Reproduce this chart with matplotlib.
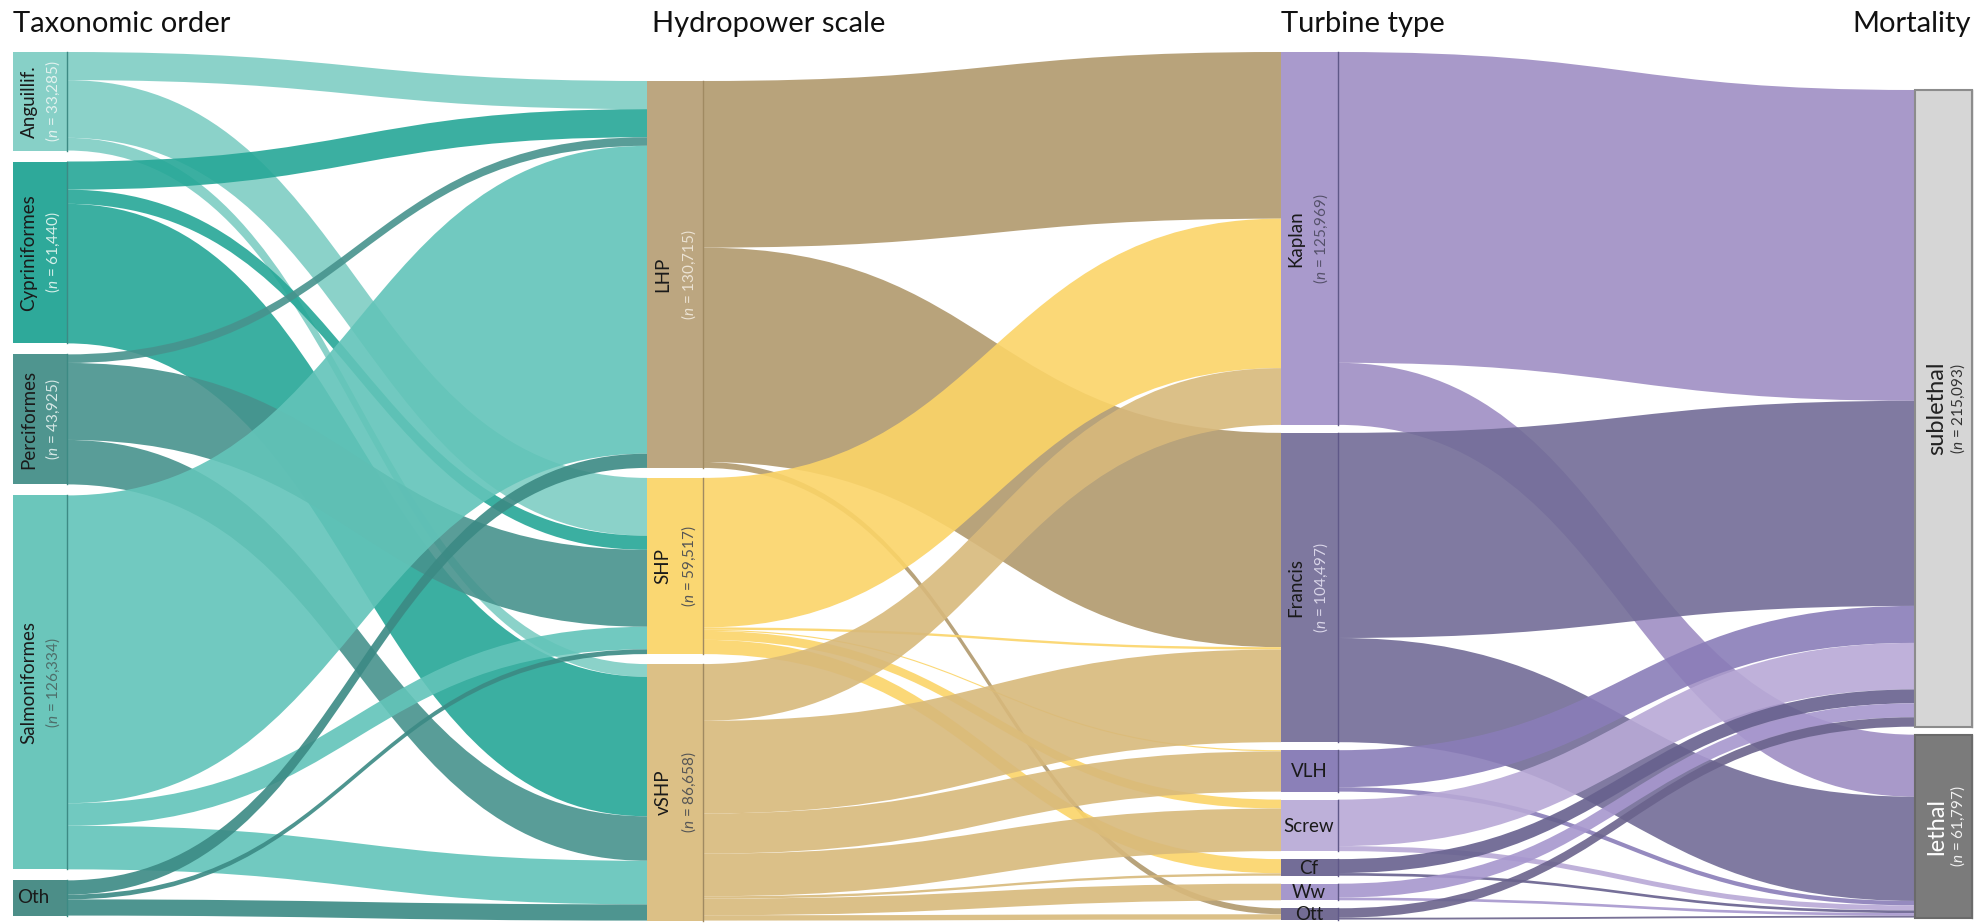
import numpy as np
import matplotlib.pyplot as plt
from matplotlib.path import Path
from matplotlib.patches import PathPatch, Rectangle

plt.rcParams['font.family'] = ['Lato', 'DejaVu Sans']
plt.rcParams['mathtext.fontset'] = 'custom'
plt.rcParams['mathtext.it'] = 'Lato:italic'
plt.rcParams['mathtext.rm'] = 'Lato'

# 1. Data (node totals printed on the chart)
orders = ["Anguillif.", "Cypriniformes", "Perciformes", "Salmoniformes", "Oth"]
order_n = [33285, 61440, 43925, 126334, 11906]
scales = ["LHP", "SHP", "vSHP"]
scale_n = [130715, 59517, 86658]
turbines = ["Kaplan", "Francis", "VLH", "Screw", "Cf", "Ww", "Ott"]
turbine_n = [125969, 104497, 14000, 17400, 5600, 5600, 3824]
mortality = ["sublethal", "lethal"]
mortality_n = [215093, 61797]

# flows: rows = source node, columns = target node
order_to_scale = [
    [9500, 19500, 4285],
    [9500, 4800, 47140],
    [2900, 26000, 15025],
    [104000, 7600, 14734],
    [4815, 1617, 5474],
]
scale_to_turbine = [
    [56300, 72400, 0, 0, 0, 0, 2015],
    [50500, 800, 400, 3017, 4800, 0, 0],
    [19169, 31297, 13600, 14383, 800, 5600, 1809],
]
turbine_to_mortality = [
    [105000, 20969],
    [69297, 35200],
    [12500, 1500],
    [15700, 1700],
    [4700, 900],
    [4700, 900],
    [3196, 628],
]

# 2. Styling
order_node_col = ["#87d0c7", "#2ea99a", "#4f958f", "#6bc6bb", "#4c8e88"]
order_flow_col = ["#7fcdc4", "#26a797", "#47938d", "#62c4b9", "#3b8a84"]
scale_node_col = ["#bca680", "#fad772", "#dcc086"]
scale_flow_col = ["#b1996d", "#fbd468", "#d8b97b"]
turb_node_col = ["#a99acc", "#7e789f", "#8b80b8", "#bdb0d9", "#736d97", "#a698cc", "#736c94"]
turb_flow_col = ["#9f8ec3", "#726c97", "#8a7db8", "#b8a9d6", "#67618e", "#a797ce", "#6a638c"]
mort_node_col = ["#d6d6d6", "#7b7b7b"]

W, H = 1975, 924
k = 0.00296  # pixels per fish

fig = plt.figure(figsize=(W / 100, H / 100), dpi=100)
ax = fig.add_axes([0, 0, 1, 1])
ax.set_xlim(0, W)
ax.set_ylim(H, 0)
ax.axis("off")

columns = [
    dict(x0=13, x1=67, top=52, gap=11, n=order_n),
    dict(x0=647, x1=703, top=81, gap=10, n=scale_n),
    dict(x0=1281, x1=1338, top=52, gap=8, n=turbine_n),
    dict(x0=1915, x1=1972, top=90, gap=8, n=mortality_n),
]

for c in columns:
    ys = []
    y = c["top"]
    for v in c["n"]:
        ys.append((y, y + v * k))
        y += v * k + c["gap"]
    c["ys"] = ys


def ribbon(xa, ya0, ya1, xb, yb0, yb1, color):
    xm = (xa + xb) / 2
    verts = [(xa, ya0), (xm, ya0), (xm, yb0), (xb, yb0),
             (xb, yb1), (xm, yb1), (xm, ya1), (xa, ya1), (xa, ya0)]
    codes = [Path.MOVETO, Path.CURVE4, Path.CURVE4, Path.CURVE4,
             Path.LINETO, Path.CURVE4, Path.CURVE4, Path.CURVE4, Path.CLOSEPOLY]
    ax.add_patch(PathPatch(Path(verts, codes), facecolor=color, edgecolor="none",
                           alpha=0.9, zorder=1))


def draw_flows(ca, cb, M, colors):
    M = np.array(M, dtype=float)
    src_off = [y0 for y0, _ in ca["ys"]]
    tgt_off = [y0 for y0, _ in cb["ys"]]
    # target-side offsets: stacked in source order
    tgt_pos = np.zeros_like(M)
    for j in range(M.shape[1]):
        y = tgt_off[j]
        for i in range(M.shape[0]):
            tgt_pos[i, j] = y
            y += M[i, j] * k
    for i in range(M.shape[0]):
        y = src_off[i]
        for j in range(M.shape[1]):
            h = M[i, j] * k
            if h > 0:
                ribbon(ca["x1"], y, y + h, cb["x0"], tgt_pos[i, j], tgt_pos[i, j] + h, colors[i])
            y += h


draw_flows(columns[0], columns[1], order_to_scale, order_flow_col)
draw_flows(columns[1], columns[2], scale_to_turbine, scale_flow_col)
draw_flows(columns[2], columns[3], turbine_to_mortality, turb_flow_col)

# 3. Nodes
node_cols = [order_node_col, scale_node_col, turb_node_col, mort_node_col]
edge_cols = ["#3d8a84", "#a08a62", "#5f5888", "#8a8a8a"]
for c, cols, ec in zip(columns, node_cols, edge_cols):
    for (y0, y1), fc in zip(c["ys"], cols):
        ax.add_patch(Rectangle((c["x0"], y0), c["x1"] - c["x0"], y1 - y0,
                               facecolor=fc, edgecolor="none", zorder=2))
        ax.plot([c["x1"], c["x1"]], [y0, y1], color=ec, lw=1.0, zorder=3)
# grey outline for mortality boxes
for (y0, y1), ec in zip(columns[3]["ys"], ["#8c8c8c", "#6a6a6a"]):
    ax.add_patch(Rectangle((columns[3]["x0"], y0), columns[3]["x1"] - columns[3]["x0"], y1 - y0,
                           facecolor="none", edgecolor=ec, lw=1.5, zorder=3))


def nlabel(v):
    return r"($\it{n}$ = " + f"{v:,})"


# 4. Labels
name_fs = 13.5
n_fs = 11
order_ncol = ["#e2f2ef", "#d5efe9", "#d6e8e6", "#4e6e6a", "#ffffff"]
for i, (name, v) in enumerate(zip(orders, order_n)):
    y0, y1 = columns[0]["ys"][i]
    yc = (y0 + y1) / 2
    if name == "Oth":
        ax.text(17, yc, name, fontsize=name_fs, ha="left", va="center", color="#1a1a1a", zorder=4)
        continue
    ax.text(29, yc, name, rotation=90, fontsize=name_fs, ha="center", va="center",
            color="#1a1a1a", zorder=4)
    ax.text(53, yc, nlabel(v), rotation=90, fontsize=n_fs, ha="center", va="center",
            color=order_ncol[i], zorder=4)

scale_ncol = ["#ece3d4", "#555555", "#555555"]
for i, (name, v) in enumerate(zip(scales, scale_n)):
    y0, y1 = columns[1]["ys"][i]
    yc = (y0 + y1) / 2
    ax.text(663, yc, name, rotation=90, fontsize=name_fs, ha="center", va="center",
            color="#1a1a1a", zorder=4)
    ax.text(689, yc, nlabel(v), rotation=90, fontsize=n_fs, ha="center", va="center",
            color=scale_ncol[i], zorder=4)

turb_ncol = ["#55516a", "#d9d5e8"]
for i, (name, v) in enumerate(zip(turbines, turbine_n)):
    y0, y1 = columns[2]["ys"][i]
    yc = (y0 + y1) / 2
    if i < 2:
        ax.text(1296, yc, name, rotation=90, fontsize=name_fs, ha="center", va="center",
                color="#1a1a1a", zorder=4)
        ax.text(1321, yc, nlabel(v), rotation=90, fontsize=n_fs, ha="center", va="center",
                color=turb_ncol[i], zorder=4)
    else:
        ax.text(1309, yc + 1, name, fontsize=name_fs, ha="center", va="center",
                color="#1a1a1a", zorder=4)

mort_col = ["#222222", "#ffffff"]
mort_ncol = ["#333333", "#f2f2f2"]
for i, (name, v) in enumerate(zip(mortality, mortality_n)):
    y0, y1 = columns[3]["ys"][i]
    yc = (y0 + y1) / 2
    ax.text(1937, yc, name, rotation=90, fontsize=17, ha="center", va="center",
            color=mort_col[i], zorder=4)
    ax.text(1958, yc, nlabel(v), rotation=90, fontsize=n_fs, ha="center", va="center",
            color=mort_ncol[i], zorder=4)

# 5. Column headings
head_fs = 21
ax.text(13, 24, "Taxonomic order", fontsize=head_fs, ha="left", va="center", color="#111111")
ax.text(652, 24, "Hydropower scale", fontsize=head_fs, ha="left", va="center", color="#111111")
ax.text(1281, 24, "Turbine type", fontsize=head_fs, ha="left", va="center", color="#111111")
ax.text(1971, 24, "Mortality", fontsize=head_fs, ha="right", va="center", color="#111111")

fig.savefig("out.png", dpi=100)
